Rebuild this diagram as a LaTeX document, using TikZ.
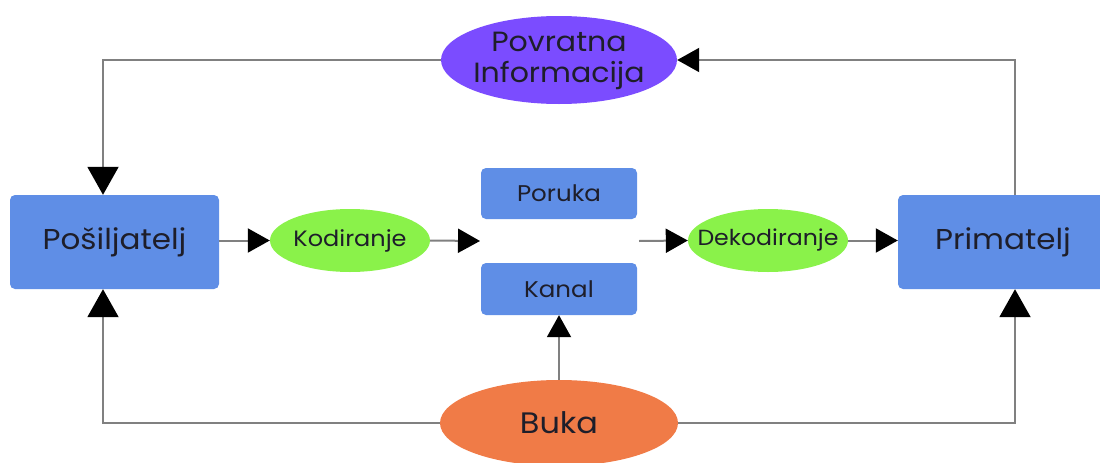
\documentclass[tikz,border=0pt]{standalone}
\usepackage{fontspec}
\setmainfont[FakeStretch=1.08]{Poppins}
\usetikzlibrary{arrows.meta,shapes.geometric}
\definecolor{boxblue}{HTML}{5F8EE6}
\definecolor{ellgreen}{HTML}{8AF24A}
\definecolor{ellpurple}{HTML}{7B4CFF}
\definecolor{ellorange}{HTML}{F07B47}
\definecolor{linegray}{HTML}{808080}
\definecolor{txt}{HTML}{1E1E2A}
\begin{document}
\begin{tikzpicture}[x=1pt,y=-1pt,
  box/.style={draw=none,fill=boxblue,rounded corners=5pt,inner sep=0pt,text=txt},
  oval/.style={ellipse,draw=none,inner sep=0pt,text=txt,align=center},
  conn/.style={draw=linegray,line width=2pt},
  bigtip/.style={-{Triangle[length=28pt,width=31pt,fill=black,color=black]}},
  smalltip/.style={-{Triangle[length=22pt,width=24pt,fill=black,color=black]}}]
\useasboundingbox (0,0) rectangle (1100,463);
% boxes
\node[box,minimum width=209pt,minimum height=94pt,font=\fontsize{28.7}{32}\selectfont] (send) at (114.5,242) {Pošiljatelj};
\node[box,minimum width=210pt,minimum height=94pt,font=\fontsize{28.7}{32}\selectfont] (recv) at (1003,242) {Primatelj};
\node[box,minimum width=156pt,minimum height=51pt,font=\fontsize{22.7}{26}\selectfont] (poruka) at (559,193.5) {Poruka};
\node[box,minimum width=156pt,minimum height=52pt,font=\fontsize{22.7}{26}\selectfont] (kanal) at (559,289) {Kanal};
% ellipses
\node[oval,fill=ellgreen,minimum width=160pt,minimum height=63pt,font=\fontsize{22.2}{26}\selectfont] (kod) at (350,240.5) {\makebox[0pt]{Kodiranje}};
\node[oval,fill=ellgreen,minimum width=160pt,minimum height=63pt,font=\fontsize{21.9}{26}\selectfont] (dek) at (768,240.5) {\makebox[0pt]{Dekodiranje}};
\node[oval,fill=ellpurple,minimum width=236pt,minimum height=88pt,inner ysep=-6pt,font=\fontsize{27.8}{33}\selectfont] (fb) at (559,60) {\makebox[0pt]{\begin{tabular}{@{}c@{}}Povratna\\[-2pt]Informacija\end{tabular}}};
\node[oval,fill=ellorange,minimum width=238pt,minimum height=86pt,font=\fontsize{29.6}{33}\selectfont] (buka) at (559,423) {\makebox[0pt]{Buka}};
% free ends
\coordinate (kEnd) at (480,241);
\coordinate (dStart) at (639,241);
% connectors
\draw[conn,smalltip] (send.east |- kod.west) -- (kod.west);
\draw[conn,smalltip] (kod.east) -- (kEnd);
\draw[conn,smalltip] (dStart) -- (dek.west);
\draw[conn,smalltip] (dek.east) -- (recv.west |- dek.east);
\draw[conn,bigtip] (fb.west) -| ([xshift=-11.5pt]send.north);
\draw[conn,smalltip] ([xshift=12pt]recv.north) |- (fb.east);
\draw[conn,bigtip] (buka.west) -| ([xshift=-11.5pt]send.south);
\draw[conn,bigtip] (buka.east) -| ([xshift=12pt]recv.south);
\draw[conn,smalltip] (buka.north) -- (kanal.south);
\end{tikzpicture}
\end{document}
